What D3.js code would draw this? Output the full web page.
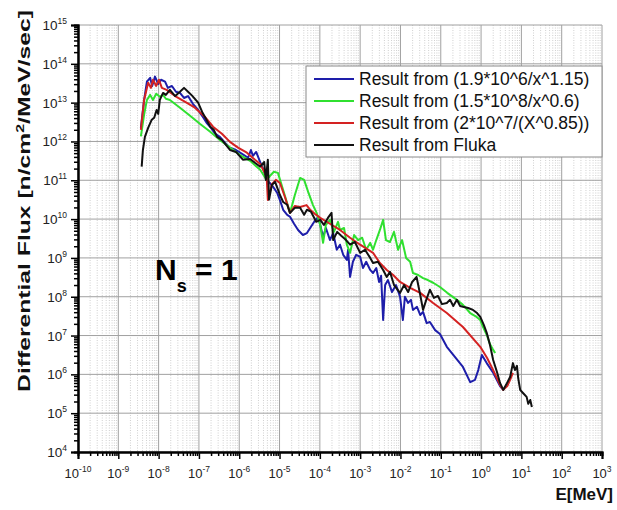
<!DOCTYPE html>
<html>
<head>
<meta charset="utf-8">
<script src="https://cdn.jsdelivr.net/npm/d3@7"></script>
<style>
  body { margin: 0; background: #fff; }
  text { font-family: Arial, "Liberation Sans", sans-serif; }
</style>
</head>
<body>
<script>
// values, as [log10(E in MeV), log10(flux)]
const fitA = [ // 1.9*10^6/x^1.15  (blue)
  [-8.44,12.35],[-8.36,13.07],[-8.29,13.54],[-8.21,13.64],[-8.16,13.43],[-8.09,13.67],[-8.01,13.48],
  [-7.94,13.59],[-7.84,13.54],[-7.77,13.38],[-7.67,13.43],[-7.57,13.28],[-7.47,13.25],[-7.37,13.12],
  [-7.27,13.17],[-7.15,12.97],[-7.02,12.81],[-6.92,12.66],[-6.81,12.48],[-6.70,12.35],[-6.60,12.20],
  [-6.48,12.12],[-6.35,11.96],[-6.23,11.84],[-6.08,11.78],[-5.93,11.68],[-5.78,11.58],[-5.71,11.78],
  [-5.66,11.63],[-5.58,11.73],[-5.48,11.47],[-5.38,11.22],[-5.32,11.01],[-5.24,10.93],[-5.16,10.83],
  [-5.06,10.68],[-4.99,10.49],[-4.91,10.24],[-4.81,10.11],[-4.74,10.06],[-4.64,9.88],[-4.54,9.72],
  [-4.42,9.59],[-4.32,9.64],[-4.24,9.77],[-4.14,9.93],[-4.04,10.06],[-3.99,9.85],[-3.92,9.54],
  [-3.85,9.77],[-3.75,9.46],[-3.67,9.64],[-3.58,9.21],[-3.50,9.34],[-3.42,9.08],[-3.33,8.95],
  [-3.30,9.21],[-3.25,8.51],[-3.18,8.90],[-3.10,9.08],[-3.00,9.03],[-2.93,8.74],[-2.85,8.90],
  [-2.75,8.69],[-2.68,8.61],[-2.60,8.74],[-2.53,8.38],[-2.48,8.54],[-2.43,7.40],[-2.38,8.30],
  [-2.31,8.43],[-2.21,8.12],[-2.11,8.30],[-2.01,8.00],[-1.94,7.40],[-1.89,8.00],[-1.81,7.84],
  [-1.74,7.92],[-1.69,7.66],[-1.59,7.74],[-1.51,7.53],[-1.44,7.61],[-1.35,7.32],[-1.27,7.35],
  [-1.14,7.14],[-1.02,7.04],[-0.85,6.71],[-0.65,6.45],[-0.45,6.19],[-0.27,5.80],[-0.15,5.86],
  [-0.07,6.11],[0.02,6.50],[0.14,6.29],[0.30,6.04],[0.47,5.70],[0.55,5.60]
];
const fitB = [ // 1.5*10^8/x^0.6  (green)
  [-8.44,12.13],[-8.36,12.69],[-8.29,13.07],[-8.21,13.20],[-8.14,13.07],[-8.06,13.23],[-7.97,13.15],
  [-7.89,13.20],[-7.82,13.10],[-7.72,13.07],[-7.47,12.87],[-7.22,12.66],[-6.97,12.45],[-6.72,12.25],
  [-6.48,12.04],[-6.23,11.84],[-5.98,11.65],[-5.73,11.50],[-5.48,11.27],[-5.32,11.01],[-5.24,11.11],
  [-5.14,11.22],[-5.04,11.19],[-4.91,10.75],[-4.74,10.16],[-4.62,10.62],[-4.49,11.06],[-4.39,11.01],
  [-4.29,10.70],[-4.17,10.36],[-4.08,10.16],[-3.99,9.85],[-3.92,9.39],[-3.85,9.85],[-3.75,9.98],
  [-3.65,9.67],[-3.55,9.93],[-3.50,9.72],[-3.40,9.77],[-3.33,9.34],[-3.25,9.13],[-3.15,9.59],
  [-3.05,9.46],[-2.95,9.52],[-2.85,9.21],[-2.75,9.39],[-2.68,9.21],[-2.60,9.46],[-2.51,9.72],
  [-2.43,9.98],[-2.36,9.46],[-2.26,9.41],[-2.16,9.67],[-2.06,9.21],[-1.96,9.46],[-1.86,9.00],
  [-1.76,8.90],[-1.69,8.61],[-1.56,8.56],[-1.44,8.48],[-1.32,8.43],[-1.19,8.36],[-1.02,8.25],
  [-0.84,8.10],[-0.60,7.92],[-0.45,7.79],[-0.27,7.58],[-0.11,7.48],[-0.02,7.40],[0.05,7.22],
  [0.15,6.99],[0.22,6.78],[0.30,6.63],[0.35,6.55]
];
const fitC = [ // 2*10^7/(X^0.85)  (red)
  [-8.44,12.30],[-8.36,13.07],[-8.26,13.51],[-8.19,13.38],[-8.14,13.59],[-8.06,13.43],[-7.99,13.59],
  [-7.92,13.38],[-7.80,13.33],[-7.59,13.17],[-7.34,13.02],[-7.10,12.87],[-6.85,12.63],[-6.65,12.38],
  [-6.43,12.20],[-6.23,11.99],[-6.03,11.84],[-5.81,11.71],[-5.61,11.53],[-5.48,11.42],[-5.32,11.10],
  [-5.29,10.49],[-5.19,10.90],[-5.09,11.01],[-4.99,10.93],[-4.86,10.55],[-4.74,10.16],[-4.62,10.34],
  [-4.49,10.31],[-4.33,10.36],[-4.24,10.24],[-4.12,10.13],[-3.99,10.03],[-3.75,9.88],[-3.50,9.72],
  [-3.25,9.52],[-3.00,9.34],[-2.68,9.13],[-2.51,8.87],[-2.34,8.69],[-2.18,8.56],[-2.01,8.38],
  [-1.76,8.23],[-1.51,8.10],[-1.19,7.84],[-0.85,7.58],[-0.45,7.22],[-0.02,6.71],[0.15,6.42],
  [0.30,6.11],[0.47,5.73],[0.55,5.60],[0.65,5.70],[0.72,5.86],[0.79,6.04]
];
const fluka = [ // Fluka (black)
  [-8.42,11.35],[-8.39,11.78],[-8.34,12.12],[-8.26,12.35],[-8.17,12.56],[-8.11,12.61],[-8.05,12.81],
  [-8.01,12.71],[-7.97,13.07],[-7.89,13.25],[-7.82,13.20],[-7.72,13.33],[-7.59,13.17],[-7.47,13.28],
  [-7.37,13.38],[-7.27,13.28],[-7.17,13.18],[-7.02,13.00],[-6.92,12.76],[-6.85,12.63],[-6.72,12.38],
  [-6.63,12.30],[-6.55,12.12],[-6.43,12.04],[-6.33,11.91],[-6.23,11.78],[-6.08,11.73],[-5.91,11.53],
  [-5.73,11.55],[-5.61,11.45],[-5.48,11.35],[-5.38,11.47],[-5.34,11.01],[-5.29,11.53],[-5.26,10.50],
  [-5.19,10.88],[-5.11,10.96],[-4.99,10.62],[-4.91,10.44],[-4.81,10.37],[-4.74,10.16],[-4.62,10.29],
  [-4.49,10.29],[-4.39,10.11],[-4.32,10.24],[-4.22,10.19],[-4.09,9.93],[-3.99,9.98],[-3.90,9.85],
  [-3.80,10.03],[-3.71,10.16],[-3.67,9.46],[-3.57,9.67],[-3.47,9.57],[-3.35,9.46],[-3.25,9.34],
  [-3.13,9.41],[-3.00,9.13],[-2.88,9.21],[-2.75,9.00],[-2.68,8.87],[-2.56,8.90],[-2.43,8.69],
  [-2.34,8.51],[-2.26,8.64],[-2.16,8.30],[-2.01,8.10],[-1.91,8.30],[-1.81,8.12],[-1.71,8.38],
  [-1.60,8.51],[-1.51,8.05],[-1.44,7.66],[-1.36,7.92],[-1.27,8.18],[-1.17,7.97],[-1.07,8.02],
  [-0.97,7.81],[-0.85,7.84],[-0.77,7.92],[-0.69,7.76],[-0.60,7.92],[-0.52,7.76],[-0.45,7.74],
  [-0.32,7.71],[-0.20,7.66],[-0.10,7.58],[-0.02,7.48],[0.07,7.27],[0.14,7.07],[0.22,6.76],
  [0.30,6.37],[0.40,6.04],[0.47,5.78],[0.55,5.60],[0.62,5.73],[0.72,5.93],[0.79,6.29],[0.84,6.11],
  [0.89,6.22],[0.92,5.91],[0.97,5.60],[1.04,5.52],[1.13,5.42],[1.17,5.24],[1.22,5.34],[1.26,5.16]
];

const seriesNames = [
  "Result from (1.9*10^6/x^1.15)",
  "Result from (1.5*10^8/x^0.6)",
  "Result from (2*10^7/(X^0.85))",
  "Result from Fluka"
];
const seriesColors = ["#1e1eaa", "#30e030", "#d42222", "#111111"];
const xExponents = d3.range(-10, 4);   // 10^-10 .. 10^3
const yExponents = d3.range(4, 16);    // 10^4 .. 10^15

const width = 617, height = 510;
const svg = d3.select("body").append("svg").attr("width", width).attr("height", height);

const x = d3.scaleLog().domain([1e-10, 1e3]).range([78, 602]);
const y = d3.scaleLog().domain([1e4, 1e15]).range([452, 25]);

const majorX = xExponents.map(e => Math.pow(10, e));
const majorY = yExponents.map(e => Math.pow(10, e));
const minorX = [], minorY = [];
xExponents.slice(0, -1).forEach(e => { for (let k = 2; k < 10; k++) minorX.push(k * Math.pow(10, e)); });
yExponents.slice(0, -1).forEach(e => { for (let k = 2; k < 10; k++) minorY.push(k * Math.pow(10, e)); });

// grid
const grid = svg.append("g");
grid.selectAll("line.minor").data(minorX).join("line")
  .attr("x1", d => x(d)).attr("x2", d => x(d)).attr("y1", y(1e15)).attr("y2", y(1e4))
  .attr("stroke", "#c4c4c4").attr("stroke-width", 0.8).attr("stroke-dasharray", "1,1.5");
grid.selectAll("line.vmaj").data(majorX).join("line")
  .attr("x1", d => x(d)).attr("x2", d => x(d)).attr("y1", y(1e15)).attr("y2", y(1e4))
  .attr("stroke", "#a0a0a0").attr("stroke-width", 1);
grid.selectAll("line.hmaj").data(majorY).join("line")
  .attr("x1", x(1e-10)).attr("x2", x(1e3)).attr("y1", d => y(d)).attr("y2", d => y(d))
  .attr("stroke", "#a0a0a0").attr("stroke-width", 1);

// curves
const line = d3.line().x(d => x(Math.pow(10, d[0]))).y(d => y(Math.pow(10, d[1])));
[fitA, fitB, fitC, fluka].forEach((s, i) => {
  svg.append("path").datum(s).attr("d", line)
    .attr("fill", "none").attr("stroke", seriesColors[i])
    .attr("stroke-width", 2).attr("stroke-linejoin", "round");
});

// axes
const xAxis = svg.append("g").attr("transform", `translate(0,${y(1e4)})`);
xAxis.call(d3.axisBottom(x).tickValues(minorX).tickSize(4).tickFormat(""));
xAxis.append("g").call(d3.axisBottom(x).tickValues(majorX).tickSize(7).tickFormat(""));
xAxis.selectAll("path, line").attr("stroke", "#000").attr("stroke-width", 1.5);
xAxis.selectAll(".domain").attr("stroke-width", 2);

const yAxis = svg.append("g").attr("transform", `translate(${x(1e-10)},0)`);
yAxis.call(d3.axisLeft(y).tickValues(minorY).tickSize(4).tickFormat(""));
yAxis.append("g").call(d3.axisLeft(y).tickValues(majorY).tickSize(7).tickFormat(""));
yAxis.selectAll("path, line").attr("stroke", "#000").attr("stroke-width", 1.5);
yAxis.selectAll(".domain").attr("stroke-width", 2);

// tick labels with superscripts
const xl = svg.append("g").selectAll("text").data(xExponents).join("text")
  .attr("x", e => x(Math.pow(10, e))).attr("y", 478)
  .attr("text-anchor", "middle").attr("fill", "#222").attr("font-size", 13);
xl.append("tspan").text("10");
xl.append("tspan").attr("dy", -6).attr("font-size", 8.5).text(e => e);

const yl = svg.append("g").selectAll("text").data(yExponents).join("text")
  .attr("x", 67).attr("y", e => y(Math.pow(10, e)) + 5)
  .attr("text-anchor", "end").attr("fill", "#222").attr("font-size", 13.5);
yl.append("tspan").text("10");
yl.append("tspan").attr("dy", -6).attr("font-size", 8.5).text(e => e);

// axis titles
const yTitle = svg.append("text").attr("font-weight", "bold").attr("font-size", 17).attr("fill", "#111")
  .attr("text-anchor", "middle");
yTitle.append("tspan").text("Differential Flux [n/cm");
yTitle.append("tspan").attr("dy", -6).attr("font-size", 11).text("2");
yTitle.append("tspan").attr("dy", 6).text("/MeV/sec]");
const natural = yTitle.node().getComputedTextLength();
yTitle.attr("transform", `translate(30,201) rotate(-90) scale(${382 / natural},1)`);

svg.append("text").attr("x", 613).attr("y", 500).attr("text-anchor", "end")
  .attr("font-weight", "bold").attr("font-size", 17).attr("fill", "#111").text("E[MeV]");

// N_s = 1
const ns = svg.append("text").attr("x", 155).attr("y", 280)
  .attr("font-weight", "bold").attr("font-size", 30).attr("fill", "#000");
ns.append("tspan").text("N");
ns.append("tspan").attr("dy", 12).attr("font-size", 18).text("s");
ns.append("tspan").attr("dy", -12).text(" = 1");

// legend
const lg = svg.append("g");
lg.append("rect").attr("x", 306).attr("y", 66).attr("width", 296).attr("height", 91)
  .attr("fill", "#fff").attr("stroke", "#8a8a8a").attr("stroke-width", 1);
seriesNames.forEach((name, i) => {
  const cy = 79 + i * 22;
  lg.append("line").attr("x1", 314).attr("x2", 354).attr("y1", cy).attr("y2", cy)
    .attr("stroke", seriesColors[i]).attr("stroke-width", 2);
  lg.append("text").attr("x", 359).attr("y", cy + 6).attr("font-size", 17.5).attr("fill", "#111").text(name);
});
</script>
</body>
</html>
